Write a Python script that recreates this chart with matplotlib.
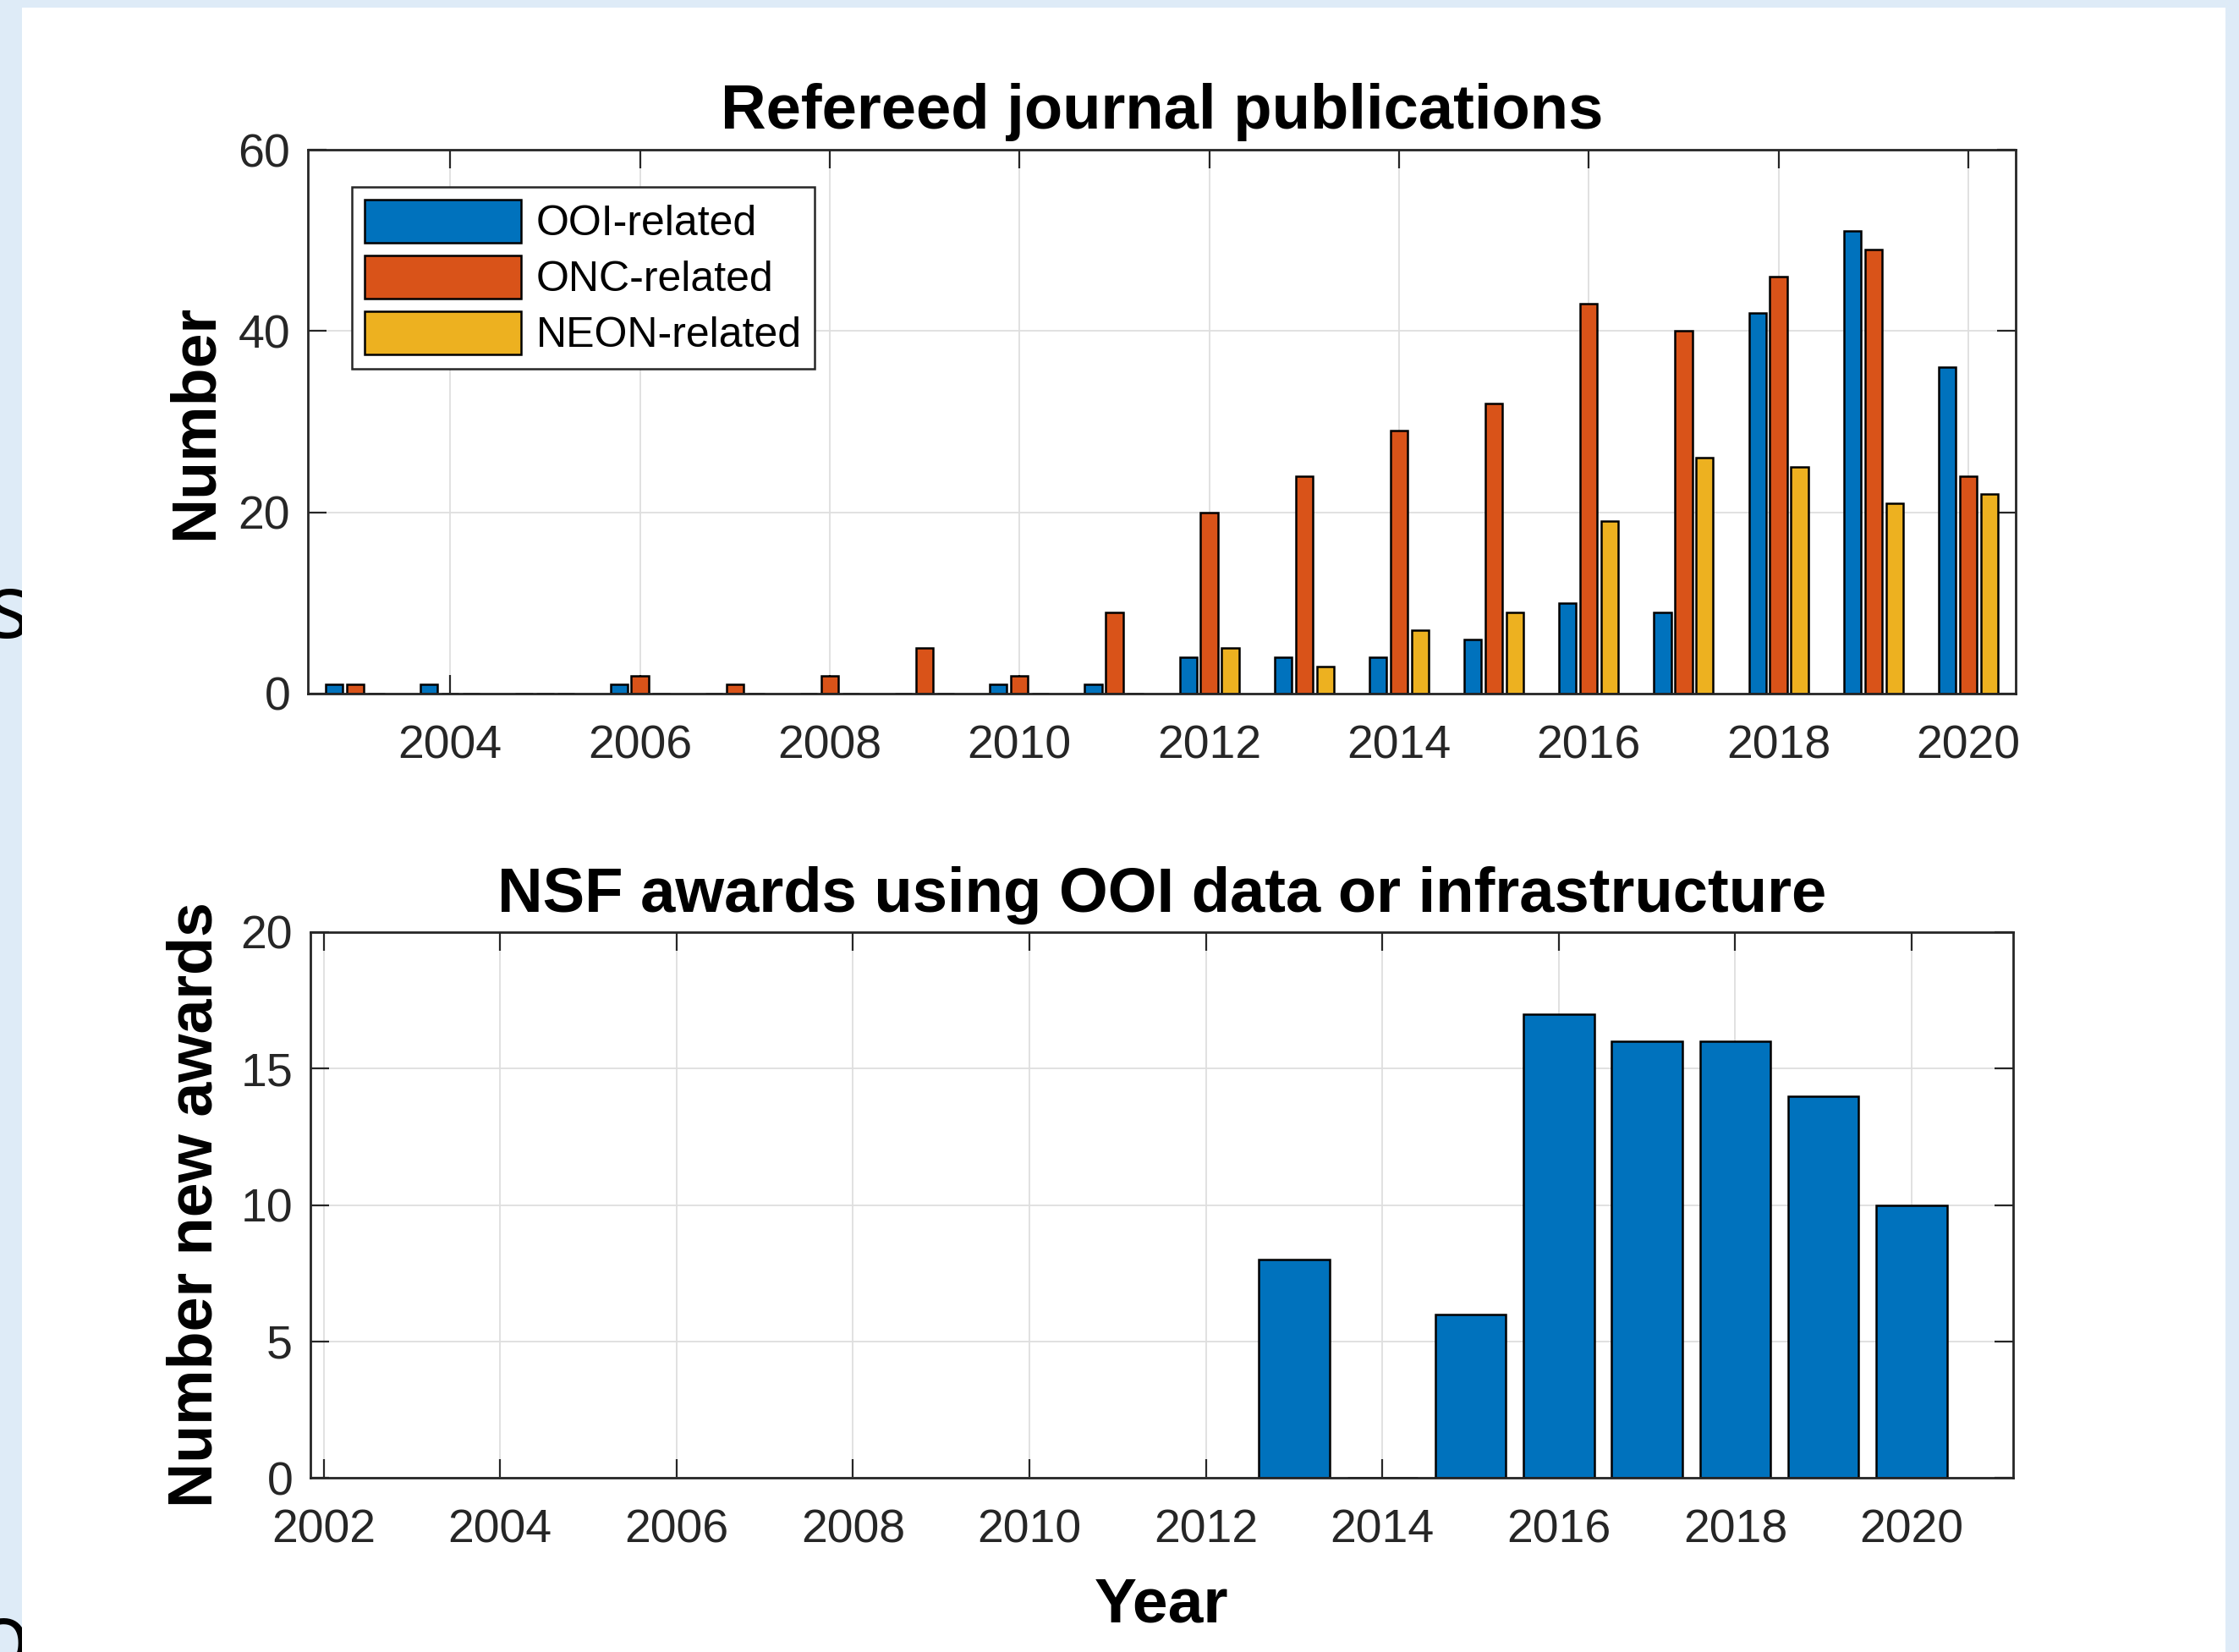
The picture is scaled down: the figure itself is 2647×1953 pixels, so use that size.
import matplotlib
matplotlib.use("Agg")
import matplotlib.pyplot as plt
from matplotlib.patches import Rectangle
import numpy as np

# ---------------- data ----------------
pub_years = [2003, 2004, 2005, 2006, 2007, 2008, 2009, 2010, 2011,
             2012, 2013, 2014, 2015, 2016, 2017, 2018, 2019, 2020]
ooi_pubs  = [1, 1, 0, 1, 0, 0, 0, 1, 1, 4, 4, 4, 6, 10, 9, 42, 51, 36]
onc_pubs  = [1, 0, 0, 2, 1, 2, 5, 2, 9, 20, 24, 29, 32, 43, 40, 46, 49, 24]
neon_pubs = [0, 0, 0, 0, 0, 0, 0, 0, 0, 5, 3, 7, 9, 19, 26, 25, 21, 22]
series_labels = ["OOI-related", "ONC-related", "NEON-related"]

award_years = [2013, 2014, 2015, 2016, 2017, 2018, 2019, 2020]
nsf_awards  = [8, 0, 6, 17, 16, 16, 14, 10]

top_xticks = list(range(2004, 2021, 2))
bot_xticks = list(range(2002, 2021, 2))
top_yticks = [0, 20, 40, 60]
bot_yticks = [0, 5, 10, 15, 20]

# ---------------- style ----------------
W, H = 2647, 1953
DPI = 100
plt.rcParams['font.family'] = ['Liberation Sans', 'DejaVu Sans']
AX_COL = '#262626'
C_BLUE, C_ORANGE, C_YELLOW = '#0072BD', '#D95319', '#EDB120'
GRID_COL = '#DEDEDE'

fig = plt.figure(figsize=(W / DPI, H / DPI), dpi=DPI)
fig.patch.set_facecolor('#DEEBF7')

def fx(px):
    return px / W

def fy(py):
    return 1 - py / H

# stray slide text (clipped by the picture panel)
fig.text(fx(36), fy(754), 's', fontsize=77, family=['Open Sans', 'DejaVu Sans'],
         ha='right', va='baseline', color='black', zorder=-3)
fig.text(fx(36), fy(1971), 'o', fontsize=77, family=['Open Sans', 'DejaVu Sans'],
         ha='right', va='baseline', color='black', zorder=-3)
# white picture panel
fig.patches.append(Rectangle((fx(26), 0), fx(2631 - 26), fy(9), transform=fig.transFigure,
                             facecolor='white', edgecolor='none', zorder=-2))


def style_axes(ax):
    ax.set_facecolor('white')
    for s in ax.spines.values():
        s.set_color(AX_COL)
        s.set_linewidth(2.0)
    ax.tick_params(direction='in', length=16, width=1.6, colors=AX_COL,
                   labelsize=40, top=True, right=True, labelcolor=AX_COL)
    ax.tick_params(axis='y', pad=15)
    ax.grid(True, color=GRID_COL, linewidth=1.3)
    ax.set_axisbelow(True)


# ---------------- top axes ----------------
ax1 = fig.add_axes([fx(364), fy(820), fx(2383 - 364), (820 - 177) / H])
style_axes(ax1)
ax1.tick_params(axis='x', pad=26)
x = np.array(pub_years, dtype=float)
off = 0.222
bw = 0.18
ax1.bar(x - off, ooi_pubs, bw, color=C_BLUE, edgecolor='black', linewidth=1.8, label=series_labels[0])
ax1.bar(x, onc_pubs, bw, color=C_ORANGE, edgecolor='black', linewidth=1.8, label=series_labels[1])
ax1.bar(x + off, neon_pubs, bw, color=C_YELLOW, edgecolor='black', linewidth=1.8, label=series_labels[2])
ax1.set_xlim(2002.5, 2020.5)
ax1.set_ylim(0, 60)
ax1.set_xticks(top_xticks)
ax1.set_yticks(top_yticks)
ax1.set_title('Refereed journal publications', fontsize=53.5, fontweight='bold', pad=18, color='black')
ax1.set_ylabel('Number', fontsize=53, fontweight='bold', color='black')
ax1.yaxis.set_label_coords(-0.0488, 0.5)
leg = ax1.legend(loc='upper left', bbox_to_anchor=((416 - 364) / 2019, 1 - (221 - 177) / 643),
                 borderaxespad=0, fontsize=36, handlelength=3.7, handleheight=1.2,
                 handletextpad=0.35, labelspacing=0.27, borderpad=0.3, fancybox=False,
                 framealpha=1, edgecolor=AX_COL)
leg.get_frame().set_linewidth(1.8)

# ---------------- bottom axes ----------------
ax2 = fig.add_axes([fx(367), fy(1747), fx(2380 - 367), (1747 - 1102) / H])
style_axes(ax2)
ax2.tick_params(axis='x', pad=26)
ax2.bar(award_years, nsf_awards, 0.8, color=C_BLUE, edgecolor='black', linewidth=1.8)
ax2.set_xlim(2001.85, 2021.15)
ax2.set_ylim(0, 20)
ax2.set_xticks(bot_xticks)
ax2.set_yticks(bot_yticks)
ax2.set_title('NSF awards using OOI data or infrastructure', fontsize=53.5, fontweight='bold',
              pad=17, color='black')
ax2.set_ylabel('Number new awards', fontsize=53, fontweight='bold', color='black')
ax2.yaxis.set_label_coords(-0.0505, 0.5)
ax2.set_xlabel('Year', fontsize=54, fontweight='bold', color='black', va='baseline')
ax2.xaxis.set_label_coords(0.5, -(1917 - 1747) / 645)

fig.savefig('out.png', dpi=DPI, facecolor=fig.get_facecolor())
